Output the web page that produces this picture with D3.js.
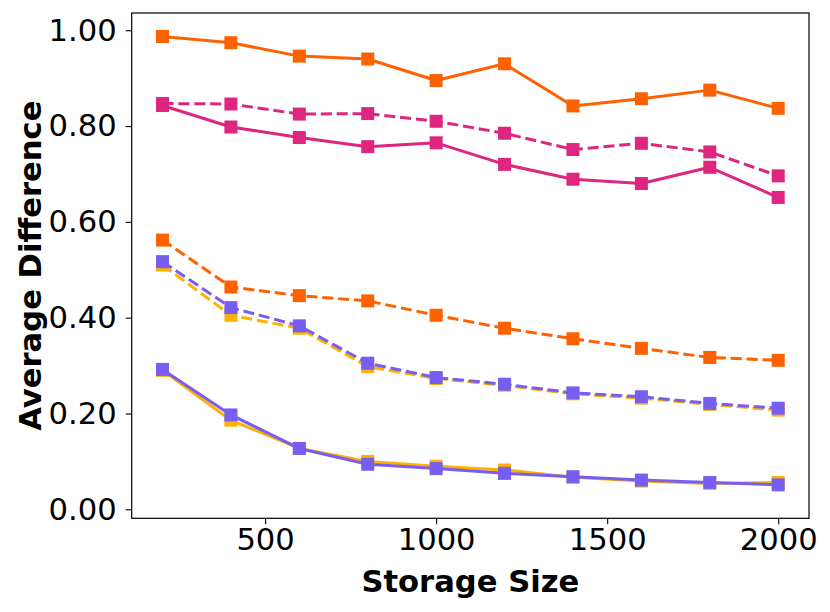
<!DOCTYPE html>
<html>
<head>
<meta charset="utf-8">
<script src="https://cdn.jsdelivr.net/npm/d3@7"></script>
<style>
  html, body { margin: 0; padding: 0; background: #fff; }
  svg { display: block; }
  text { font-family: "DejaVu Sans", sans-serif; fill: #000; }
</style>
</head>
<body>
<svg id="chart" width="830" height="612"></svg>
<script>
// ---- data ----
const storageSizes = [200, 400, 600, 800, 1000, 1200, 1400, 1600, 1800, 2000];
const orangeSolid  = [0.987, 0.974, 0.946, 0.940, 0.895, 0.930, 0.842, 0.857, 0.875, 0.837];
const orangeDashed = [0.562, 0.464, 0.446, 0.435, 0.405, 0.378, 0.356, 0.336, 0.317, 0.311];
const pinkSolid    = [0.843, 0.798, 0.776, 0.757, 0.765, 0.720, 0.689, 0.680, 0.714, 0.651];
const pinkDashed   = [0.847, 0.846, 0.825, 0.826, 0.810, 0.785, 0.751, 0.764, 0.746, 0.696];
const yellowSolid  = [0.290, 0.186, 0.127, 0.100, 0.090, 0.082, 0.067, 0.059, 0.054, 0.056];
const yellowDashed = [0.510, 0.405, 0.378, 0.298, 0.273, 0.259, 0.241, 0.232, 0.219, 0.207];
const purpleSolid  = [0.292, 0.197, 0.127, 0.094, 0.085, 0.075, 0.068, 0.061, 0.056, 0.051];
const purpleDashed = [0.517, 0.421, 0.383, 0.305, 0.275, 0.261, 0.243, 0.235, 0.221, 0.211];
const xTicks = [500, 1000, 1500, 2000];
const yTicks = [0.0, 0.2, 0.4, 0.6, 0.8, 1.0];
const xLabel = "Storage Size";
const yLabel = "Average Difference";

const series = [
  { values: orangeSolid,  color: "#FE6100", dashed: false },
  { values: orangeDashed, color: "#FE6100", dashed: true },
  { values: pinkSolid,    color: "#DC267F", dashed: false },
  { values: pinkDashed,   color: "#DC267F", dashed: true },
  { values: yellowSolid,  color: "#FFB000", dashed: false },
  { values: yellowDashed, color: "#FFB000", dashed: true },
  { values: purpleSolid,  color: "#785EF0", dashed: false },
  { values: purpleDashed, color: "#785EF0", dashed: true }
];

// ---- layout ----
const L = 131.7, R = 809, T = 13, B = 518.3;
const x = d3.scaleLinear().domain([110, 2090]).range([L, R]);
const y = d3.scaleLinear().domain([-0.0188, 1.036]).range([B, T]);

const svg = d3.select("#chart");
const fontSize = 30.6;

const plot = svg.append("g");
const line = d3.line().x((d, i) => x(storageSizes[i])).y(d => y(d));

series.forEach(s => {
  plot.append("path")
    .attr("d", line(s.values))
    .attr("fill", "none")
    .attr("stroke", s.color)
    .attr("stroke-width", 3)
    .attr("stroke-linejoin", "round")
    .attr("stroke-dasharray", s.dashed ? "11.1,4.8" : null);
  const ms = 13;
  plot.selectAll(null).data(s.values).enter().append("rect")
    .attr("x", (d, i) => x(storageSizes[i]) - ms / 2)
    .attr("y", d => y(d) - ms / 2)
    .attr("width", ms).attr("height", ms)
    .attr("fill", s.color);
});

// frame
svg.append("rect")
  .attr("x", L).attr("y", T).attr("width", R - L).attr("height", B - T)
  .attr("fill", "none").attr("stroke", "#000").attr("stroke-width", 1.2);

// axes
const xAxis = d3.axisBottom(x).tickValues(xTicks).tickSize(6).tickPadding(4)
  .tickFormat(d3.format("d"));
const gx = svg.append("g").attr("transform", `translate(0,${B})`).call(xAxis);
gx.select(".domain").remove();
gx.selectAll("line").attr("stroke", "#000").attr("stroke-width", 1.1);
gx.selectAll("text").style("font-size", fontSize + "px").style("font-family", "DejaVu Sans");

const yAxis = d3.axisLeft(y).tickValues(yTicks).tickSize(6).tickPadding(9)
  .tickFormat(d3.format(".2f"));
const gy = svg.append("g").attr("transform", `translate(${L},0)`).call(yAxis);
gy.select(".domain").remove();
gy.selectAll("line").attr("stroke", "#000").attr("stroke-width", 1.1);
gy.selectAll("text").style("font-size", fontSize + "px").style("font-family", "DejaVu Sans");

// axis titles
svg.append("text")
  .attr("x", (L + R) / 2).attr("y", 592)
  .attr("text-anchor", "middle")
  .style("font-size", fontSize + "px").style("font-weight", "bold")
  .text(xLabel);

svg.append("text")
  .attr("transform", `translate(41,${(T + B) / 2}) rotate(-90)`)
  .attr("text-anchor", "middle")
  .style("font-size", fontSize + "px").style("font-weight", "bold")
  .text(yLabel);
</script>
</body>
</html>
